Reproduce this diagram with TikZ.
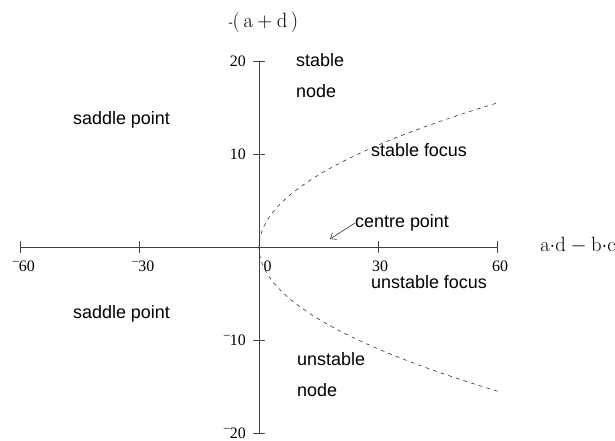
\documentclass[tikz,border=0pt]{standalone}
\usepackage[no-math]{fontspec}
\setmainfont{Liberation Serif}
\newfontfamily\arialfont{Liberation Sans}
\usetikzlibrary{positioning,arrows.meta}
% small raised minus of the tick labels
\newcommand{\smallminus}{\raisebox{7bp}{\fontsize{12}{12}\selectfont\textendash}}

\begin{document}
\begin{tikzpicture}[x=3.97bp, y=9.3bp, line cap=round, line join=round,
  >={Straight Barb[length=5bp,width=8bp]}, font=\fontsize{16}{18}\selectfont,
  axisline/.style={black!75, line width=0.8bp},
  ticklab/.style={anchor=base, inner sep=0pt},
  regionlab/.style={anchor=west, inner sep=0pt, font=\arialfont\fontsize{18}{20}\selectfont},
  axislab/.style={inner sep=0pt, font=\fontsize{19.5}{22}\selectfont}]
% Frame of the figure (origin of the axes sits at pixel 259,247)
\useasboundingbox (-259bp,-194bp) rectangle (356bp,247bp);
% Centre
\coordinate (O) at (0,0);
% Axis ranges
\def\xmax{60}
\def\ymax{20}
\def\tk{5.5bp} % half length of a tick
% Axis ends
\coordinate (XL) at (-\xmax,0);
\coordinate (XR) at (\xmax,0);
\coordinate (YB) at (0,-\ymax);
\coordinate (YT) at (0,\ymax);
% Draw axes
\draw[axisline] (XL) -- (XR);
\draw[axisline] (YB) -- (YT);
% Ticks on the horizontal axis
\foreach \x/\lab/\dx in {-60/{\smallminus60}/3, -30/{\smallminus30}/3.5, 30/30/2, 60/60/3} {
  \draw[axisline] ([yshift=-\tk]\x,0) -- ([yshift=\tk]\x,0);
  \node[ticklab, xshift=\dx bp, yshift=-24bp] (xl\x) at (\x,0) {\lab};
}
\node[ticklab, xshift=8.5bp, yshift=-24bp] (xl0) at (O) {0};
% Ticks on the vertical axis
\foreach \y/\lab in {20/20, 10/10, -10/{\smallminus10}, -20/{\smallminus20}} {
  \draw[axisline] ([xshift=-\tk]0,\y) -- ([xshift=\tk]0,\y);
  \node[ticklab, anchor=base east, xshift=-13bp, yshift=-5.5bp] (yl\y) at (0,\y) {\lab};
}
% Axis titles
\node[axislab] (ytitle) at (4.5bp,225bp) {\raisebox{1bp}{\fontsize{12}{12}\selectfont -}$(\,\mathrm{a}+\mathrm{d}\,)$};
\node[axislab] (xtitle) at (319bp,2bp) {$\mathrm{a{\cdot}d - b{\cdot}c}$};
% Boundary T^2 = 4D between nodes and foci
\draw[black!80, line width=0.6bp, dash pattern=on 3.5bp off 4.5bp]
  plot[variable=\t, domain=-15.5:15.5, samples=80, smooth] ({\t*\t/4},\t);
% Regions
\node[regionlab] (sadU) at (-186bp,127bp) {saddle point};
\node[regionlab] (sadL) at (-186bp,-67bp) {saddle point};
\node[regionlab] (stab) at (37bp,187bp) {stable};
\node[regionlab] (snode) at (37bp,156bp) {node};
\node[regionlab] (ustab) at (38bp,-112bp) {unstable};
\node[regionlab] (unode) at (38bp,-143bp) {node};
\node[regionlab] (sfoc) at (112bp,97bp) {stable focus};
\node[regionlab] (ufoc) at (112bp,-35bp) {unstable focus};
\node[regionlab] (cpt) at (96bp,24bp) {centre point};
% Arrow to the centre points
\coordinate (CP) at (71bp,8bp);
\draw[->, black!80, line width=0.6bp] (cpt.west) -- (CP);
\end{tikzpicture}
\end{document}
